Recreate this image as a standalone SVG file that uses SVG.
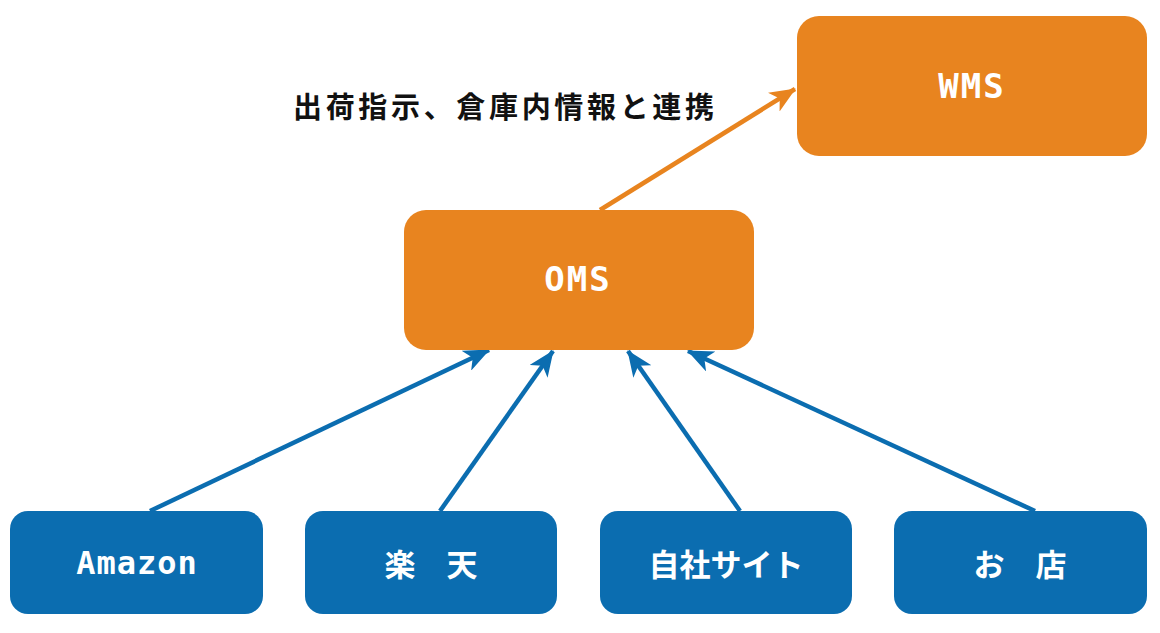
<svg xmlns="http://www.w3.org/2000/svg" width="1160" height="633" viewBox="0 0 1160 633">
<defs>
<style>
.orange{fill:#e8841f}
.blue{fill:#0b6db0}
.lbl{fill:#fff;font-family:"DejaVu Sans Mono","Liberation Mono","Noto Sans CJK JP",monospace;font-weight:bold;text-anchor:middle;dominant-baseline:central}
.jp{fill:#fff;font-family:"Noto Sans CJK JP",sans-serif;font-weight:bold;text-anchor:middle;dominant-baseline:central;font-size:31px}
.cap{fill:#111;font-family:"Noto Sans CJK JP",sans-serif;font-weight:bold;font-size:29px}
.eb{stroke:#0b6db0;stroke-width:4.5;fill:none}
.eo{stroke:#e8841f;stroke-width:4.5;fill:none}
</style>
<marker id="ab" viewBox="0 0 26 22" refX="25" refY="11" markerWidth="26" markerHeight="22" markerUnits="userSpaceOnUse" orient="auto"><path d="M0,0 L26,11 L0,22 L7,11 z" fill="#0b6db0"/></marker>
<marker id="ao" viewBox="0 0 26 22" refX="25" refY="11" markerWidth="26" markerHeight="22" markerUnits="userSpaceOnUse" orient="auto"><path d="M0,0 L26,11 L0,22 L7,11 z" fill="#e8841f"/></marker>
</defs>
<rect width="1160" height="633" fill="#fff"/>
<g id="connectors">
<line class="eb" x1="150" y1="511" x2="489" y2="350" marker-end="url(#ab)"/>
<line class="eb" x1="440" y1="511" x2="553" y2="351" marker-end="url(#ab)"/>
<line class="eb" x1="740" y1="511" x2="628" y2="351" marker-end="url(#ab)"/>
<line class="eb" x1="1035" y1="511" x2="688" y2="351" marker-end="url(#ab)"/>
<line class="eo" x1="600" y1="210" x2="795" y2="89" marker-end="url(#ao)"/>
<text class="cap" x="293" y="118" textLength="421" lengthAdjust="spacing">出荷指示、倉庫内情報と連携</text>
</g>
<g id="wms">
<rect class="orange" x="797" y="16" width="350" height="140" rx="22"/>
<text class="lbl" x="972" y="86" font-size="34" letter-spacing="2">WMS</text>
</g>
<g id="oms">
<rect class="orange" x="404" y="210" width="350" height="140" rx="22"/>
<text class="lbl" x="578" y="279" font-size="34" letter-spacing="2">OMS</text>
</g>
<g id="amazon">
<rect class="blue" x="10" y="511" width="253" height="103" rx="18"/>
<text class="lbl" x="137" y="563" font-size="32" letter-spacing="1">Amazon</text>
</g>
<g id="rakuten">
<rect class="blue" x="305" y="511" width="252" height="103" rx="18"/>
<text class="jp" x="431" y="562" font-size="32">楽　天</text>
</g>
<g id="jisha">
<rect class="blue" x="600" y="511" width="252" height="103" rx="18"/>
<text class="jp" x="726" y="562">自社サイト</text>
</g>
<g id="omise">
<rect class="blue" x="894" y="511" width="253" height="103" rx="18"/>
<text class="jp" x="1020" y="562" font-size="32">お　店</text>
</g>
</svg>
